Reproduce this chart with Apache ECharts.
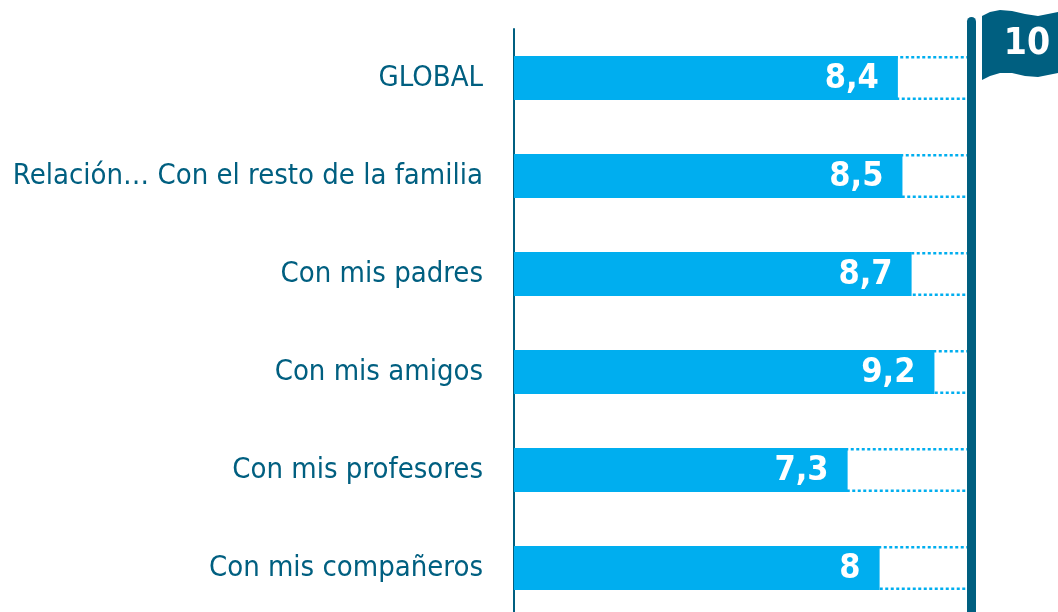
<!DOCTYPE html>
<html>
<head>
<meta charset="utf-8">
<script src="https://cdn.jsdelivr.net/npm/echarts@6/dist/echarts.min.js"></script>
<style>
  html, body { margin: 0; padding: 0; background: #fff; }
  #chart { width: 1058px; height: 612px; }
</style>
</head>
<body>
<div id="chart"></div>
<script>
// datos
const categories = [
  "GLOBAL",
  "Relación… Con el resto de la familia",
  "Con mis padres",
  "Con mis amigos",
  "Con mis profesores",
  "Con mis compañeros"
];
const values = [8.4, 8.5, 8.7, 9.2, 7.3, 8];
const maxScore = 10;

const TEAL = "#005f80";
const CYAN = "#00aeef";
const FONT = "'DejaVu Sans Condensed', 'Liberation Sans Narrow', sans-serif";

const chart = echarts.init(document.getElementById("chart"));

const option = {
  animation: false,
  grid: { left: 514, right: 87, top: 29, height: 588, outerBoundsMode: "none" },
  xAxis: { type: "value", min: 0, max: maxScore, show: false },
  yAxis: {
    type: "category",
    inverse: true,
    data: categories,
    axisLine: { show: true, lineStyle: { color: TEAL, width: 2 } },
    axisTick: { show: false },
    axisLabel: { color: TEAL, fontFamily: FONT, fontSize: 29, margin: 31 }
  },
  series: [
    {
      // fondo punteado hasta 10
      type: "bar",
      data: categories.map(() => maxScore),
      barWidth: 44,
      silent: true,
      z: 1,
      itemStyle: {
        color: "rgba(0,0,0,0)",
        borderColor: CYAN,
        borderWidth: 2.5,
        borderType: [3, 2.5]
      }
    },
    {
      type: "bar",
      data: values,
      barWidth: 44,
      barGap: "-100%",
      z: 2,
      itemStyle: { color: CYAN, borderColor: CYAN, borderWidth: 2.5 },
      label: {
        show: true,
        position: "insideRight",
        offset: [-14, 1],
        color: "#fff",
        fontFamily: FONT,
        fontWeight: "bold",
        fontSize: 34,
        formatter: (p) => String(p.value).replace(".", ",")
      }
    }
  ]
};

chart.setOption(option);

// asta y bandera en el 10
const poleX = chart.convertToPixel({ xAxisIndex: 0 }, maxScore);
chart.setOption({
  graphic: [
    {
      type: "rect",
      shape: { x: poleX - 4, y: 17, width: 9, height: 620, r: [4.5, 4.5, 0, 0] },
      style: { fill: TEAL },
      z: 10
    },
    {
      type: "polygon",
      shape: {
        points: [
          [982, 16], [990, 12], [1000, 10], [1012, 11], [1025, 14], [1038, 16], [1048, 14], [1058, 12],
          [1058, 73], [1048, 75], [1038, 77], [1025, 76], [1012, 73], [1000, 73], [990, 76], [982, 80]
        ]
      },
      style: { fill: TEAL },
      z: 10
    },
    {
      type: "text",
      x: 1027,
      y: 44,
      style: {
        text: String(maxScore),
        fill: "#fff",
        font: "bold 37px " + FONT,
        align: "center",
        verticalAlign: "middle"
      },
      z: 11
    }
  ]
});
</script>
</body>
</html>
